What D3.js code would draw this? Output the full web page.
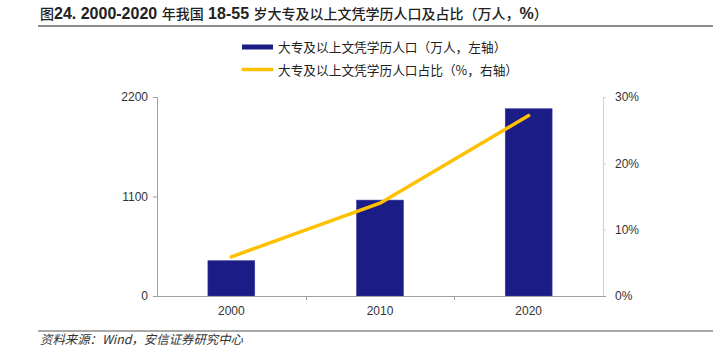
<!DOCTYPE html>
<html><head><meta charset="utf-8">
<script src="https://cdn.jsdelivr.net/npm/d3@7"></script>
<style>body{margin:0;background:#fff}svg{display:block}</style>
</head><body>
<svg id="c" width="721" height="347"></svg>
<script>
const years = ["2000", "2010", "2020"];
const population = [390, 1060, 2070];      // 万人, left axis
const share = [5.9, 14.0, 27.2];           // %, right axis
const leftTicks = [0, 1100, 2200];
const rightTicks = [0, 10, 20, 30];
const titleText = "图24. 2000-2020 年我国 18-55 岁大专及以上文凭学历人口及占比（万人，%）";
const legendLabels = ["大专及以上文凭学历人口（万人，左轴）", "大专及以上文凭学历人口占比（%，右轴）"];
const sourceText = "资料来源：Wind，安信证券研究中心";

const svg = d3.select("#c");
const L = 157, R = 603, T = 97, B = 296;
const cjk = "'Noto Sans CJK SC', 'Noto Sans', sans-serif";
const latin = "'Liberation Sans', Arial, sans-serif";

// title: latin runs bold Arial-like, CJK runs slightly smaller
const runs = titleText.match(/[\u3000-\u303f\u4e00-\u9fff\uff00-\uffef]+|[^\u3000-\u303f\u4e00-\u9fff\uff00-\uffef]+/g);
const tt = svg.append("text").attr("x", 40).attr("y", 19).attr("fill", "#222");
tt.selectAll("tspan").data(runs).join("tspan")
  .attr("font-family", d => /[\u3000-\u303f\u4e00-\u9fff\uff00-\uffef]/.test(d) ? cjk : latin)
  .attr("font-weight", d => /[\u3000-\u303f\u4e00-\u9fff\uff00-\uffef]/.test(d) ? 500 : "bold")
  .attr("font-size", d => /[\u3000-\u303f\u4e00-\u9fff\uff00-\uffef]/.test(d) ? 14 : 16)
  .style("white-space", "pre")
  .text(d => d);
svg.append("line").attr("x1", 38).attr("x2", 713).attr("y1", 26).attr("y2", 26)
  .attr("stroke", "#8c8c8c").attr("stroke-width", 2);

const x = d3.scaleBand().domain(years).range([L, R]).padding(0);
const yL = d3.scaleLinear().domain([0, 2200]).range([B, T]);
const yR = d3.scaleLinear().domain([0, 30]).range([B, T]);
const barW = x.bandwidth() * 0.315;

// bars
svg.append("g").selectAll("rect").data(years).join("rect")
  .attr("x", d => x(d) + x.bandwidth() / 2 - barW / 2)
  .attr("y", (d, i) => yL(population[i]))
  .attr("width", barW)
  .attr("height", (d, i) => B - yL(population[i]))
  .attr("fill", "#1c1c87").attr("stroke", "#3a3aa0").attr("stroke-width", 0.6);

// left axis
const gL = svg.append("g").attr("transform", `translate(${L},0)`)
  .call(d3.axisLeft(yL).tickValues(leftTicks).tickSize(4).tickPadding(5).tickFormat(d3.format("d")));
gL.select(".domain").attr("stroke", "#a0a0a0");
gL.selectAll(".tick line").attr("stroke", "#a0a0a0");
gL.selectAll("text").attr("font-family", latin).attr("font-size", 12).attr("fill", "#333");

// right axis
const gR = svg.append("g").attr("transform", `translate(${R},0)`)
  .call(d3.axisRight(yR).tickValues(rightTicks).tickSize(3).tickPadding(9).tickFormat(d => d + "%"));
gR.select(".domain").attr("stroke", "#cfcfcf");
gR.selectAll(".tick line").attr("stroke", "#cfcfcf");
gR.selectAll("text").attr("font-family", latin).attr("font-size", 12).attr("fill", "#333");

// bottom axis
const gB = svg.append("g").attr("transform", `translate(0,${B})`)
  .call(d3.axisBottom(x).tickSize(0).tickPadding(10));
gB.select(".domain").remove();
svg.append("line").attr("x1", L).attr("x2", R + 3).attr("y1", B + 0.5).attr("y2", B + 0.5)
  .attr("stroke", "#a0a0a0");
gB.selectAll("text").attr("font-family", latin).attr("font-size", 12).attr("fill", "#333");
svg.append("g").selectAll("line").data(years.slice(1)).join("line")
  .attr("x1", d => Math.round(x(d)) + 0.5).attr("x2", d => Math.round(x(d)) + 0.5)
  .attr("y1", B).attr("y2", B + 4).attr("stroke", "#a0a0a0");

// line
const line = d3.line().x((d, i) => x(years[i]) + x.bandwidth() / 2).y(d => yR(d));
svg.append("path").datum(share).attr("d", line).attr("fill", "none")
  .attr("stroke", "#ffc000").attr("stroke-width", 3.5).attr("stroke-linecap", "round").attr("stroke-linejoin", "round");

// legend
const lg = svg.append("g");
lg.append("rect").attr("x", 242).attr("y", 44.5).attr("width", 31).attr("height", 5).attr("fill", "#1c1c87");
lg.append("line").attr("x1", 243).attr("x2", 272).attr("y1", 69.5).attr("y2", 69.5)
  .attr("stroke", "#ffc000").attr("stroke-width", 3.5).attr("stroke-linecap", "round");
lg.selectAll("text").data(legendLabels).join("text")
  .attr("x", 278).attr("y", (d, i) => 51.5 + i * 23).attr("font-family", cjk)
  .attr("font-size", 12.7).attr("fill", "#222").text(d => d);

// source
svg.append("line").attr("x1", 38).attr("x2", 713).attr("y1", 331).attr("y2", 331)
  .attr("stroke", "#8c8c8c").attr("stroke-width", 1.5);
svg.append("text").attr("x", 40).attr("y", 344).attr("font-family", cjk).attr("font-style", "italic")
  .attr("font-size", 12.4).attr("fill", "#333").text(sourceText);
</script>
</body></html>
